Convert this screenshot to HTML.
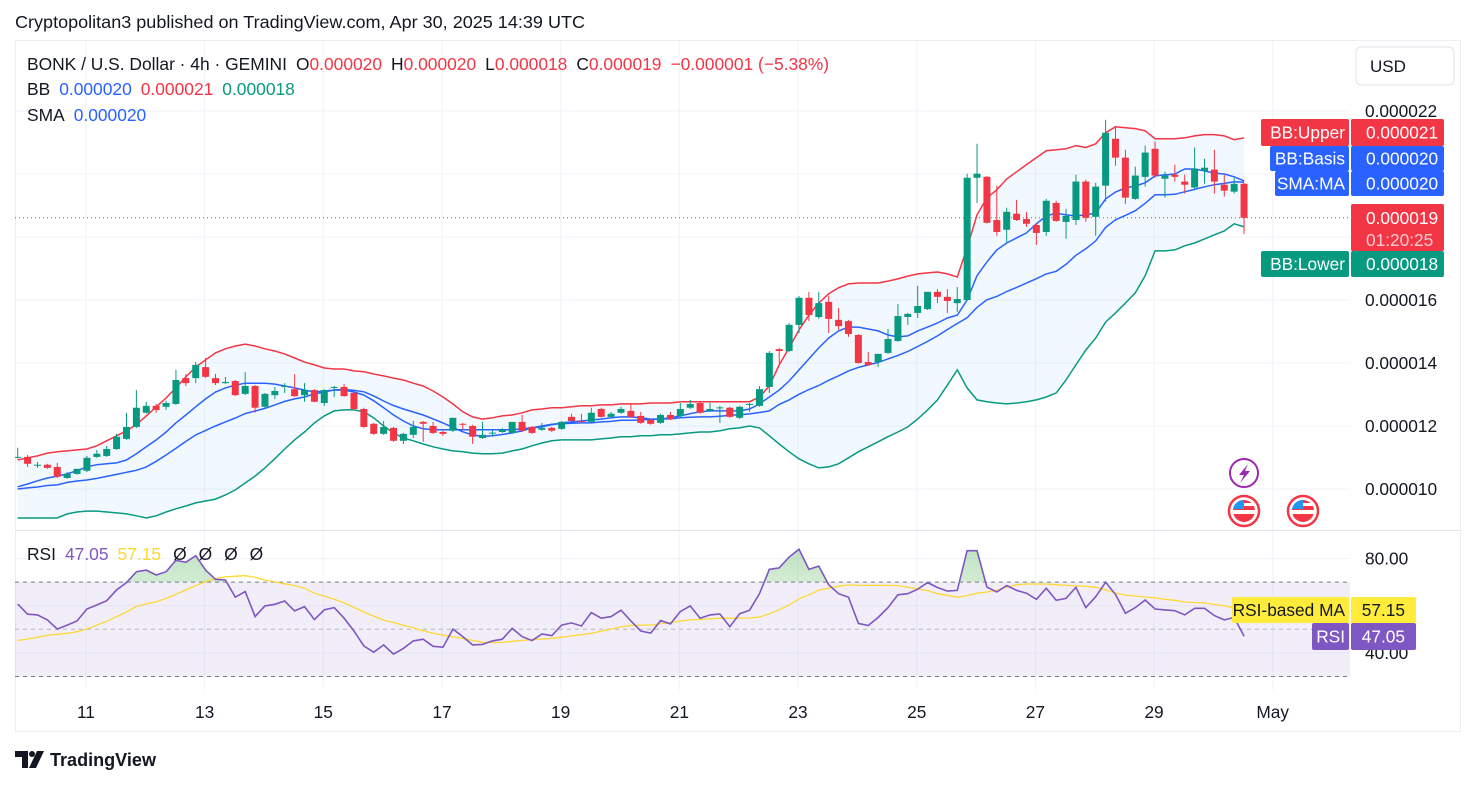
<!DOCTYPE html>
<html><head><meta charset="utf-8">
<style>
html,body{margin:0;padding:0;background:#fff;}
svg{display:block;font-family:"Liberation Sans",Arial,sans-serif;}
</style></head>
<body>
<svg id="chart" width="1476" height="785" viewBox="0 0 1476 785" xmlns="http://www.w3.org/2000/svg">
<defs>
<linearGradient id="obGrad" x1="0" y1="0" x2="0" y2="1">
<stop offset="0" stop-color="#4caf50" stop-opacity="0.35"/>
<stop offset="1" stop-color="#4caf50" stop-opacity="0.03"/>
</linearGradient>
<clipPath id="mainClip"><rect x="15" y="41" width="1335" height="489"/></clipPath>
<clipPath id="rsiClip"><rect x="15" y="531" width="1335" height="160"/></clipPath>
<clipPath id="obClip"><rect x="15" y="531" width="1335" height="51.3"/></clipPath>
</defs>
</svg>
<script>
// ---- data (prices in units of 1e-8 USD) ----
const openVals=[1099,1102,1077,1077,1070,1035,1048,1058,1102,1105,1127,1159,1197,1242,1264,1261,1270,1352,1352,1387,1352,1336,1343,1302,1327,1261,1298,1324,1317,1298,1314,1273,1321,1324,1305,1254,1207,1175,1194,1153,1172,1213,1200,1181,1185,1207,1200,1162,1177,1181,1178,1213,1197,1188,1194,1191,1229,1216,1213,1254,1229,1242,1248,1232,1219,1210,1235,1232,1258,1273,1248,1257,1258,1226,1267,1264,1324,1444,1438,1521,1607,1546,1594,1537,1533,1489,1403,1403,1432,1470,1546,1559,1571,1626,1610,1590,1600,1988,1991,1854,1823,1874,1857,1838,1816,1908,1848,1854,1976,1864,1963,2112,2052,1921,1991,2080,1985,1998,1976,1957,2010,2014,1966,1944,1969];
const highVals=[1131,1108,1086,1080,1083,1054,1064,1105,1124,1137,1175,1242,1314,1277,1270,1280,1378,1365,1403,1416,1365,1356,1346,1371,1330,1305,1324,1336,1365,1336,1317,1317,1327,1333,1308,1258,1210,1216,1197,1178,1216,1216,1213,1185,1226,1210,1204,1213,1188,1194,1213,1235,1200,1210,1197,1216,1239,1239,1258,1258,1245,1261,1273,1245,1222,1239,1245,1273,1283,1277,1273,1264,1261,1264,1273,1327,1438,1448,1527,1613,1626,1626,1613,1575,1537,1492,1435,1429,1508,1587,1559,1645,1626,1635,1635,1641,2001,2096,1994,1963,1893,1918,1880,1842,1921,1915,1889,1998,1982,1972,2172,2153,2077,2023,2090,2103,2007,2030,1998,2084,2049,2077,1998,1988,1972];
const lowVals=[1096,1070,1067,1064,1035,1032,1045,1054,1099,1102,1124,1156,1194,1239,1242,1251,1267,1327,1336,1352,1330,1334,1295,1298,1242,1258,1286,1305,1292,1277,1275,1264,1292,1293,1251,1194,1172,1172,1150,1143,1162,1150,1175,1169,1181,1188,1143,1159,1169,1178,1175,1181,1175,1185,1181,1188,1213,1210,1210,1226,1226,1239,1226,1207,1204,1207,1219,1229,1254,1239,1245,1210,1226,1222,1245,1261,1305,1400,1435,1495,1533,1540,1495,1505,1483,1398,1391,1387,1429,1467,1521,1543,1568,1590,1559,1562,1597,1908,1843,1804,1781,1851,1832,1775,1804,1848,1794,1838,1848,1804,1912,2026,1905,1918,1960,1988,1925,1976,1938,1954,1969,1938,1928,1938,1810];
const closeVals=[1102,1080,1077,1067,1039,1048,1064,1099,1112,1127,1166,1197,1258,1264,1251,1273,1346,1336,1394,1356,1336,1340,1298,1327,1258,1302,1311,1327,1295,1314,1277,1314,1324,1295,1254,1197,1175,1197,1153,1175,1197,1207,1178,1175,1226,1204,1166,1172,1179,1188,1213,1185,1178,1194,1185,1213,1216,1213,1242,1229,1239,1254,1229,1210,1207,1235,1222,1254,1270,1242,1254,1259,1229,1261,1270,1317,1432,1438,1521,1607,1552,1590,1540,1517,1492,1400,1394,1429,1476,1549,1556,1581,1626,1610,1597,1603,1988,2001,1845,1816,1880,1854,1842,1813,1915,1851,1867,1976,1861,1960,2131,2052,1925,1995,2068,1995,1995,1991,1966,2017,2020,1976,1947,1969,1861];
const bbUpper=[1092,1099,1105,1114,1118,1121,1124,1127,1137,1153,1169,1185,1204,1232,1261,1289,1321,1356,1387,1410,1432,1445,1454,1460,1454,1445,1438,1429,1416,1403,1394,1384,1381,1381,1375,1372,1365,1359,1352,1346,1336,1327,1311,1292,1270,1245,1229,1222,1226,1232,1235,1242,1251,1254,1258,1258,1261,1264,1264,1267,1267,1270,1270,1270,1273,1273,1273,1277,1277,1277,1277,1277,1277,1277,1277,1292,1327,1394,1448,1505,1552,1590,1620,1639,1651,1654,1654,1654,1660,1667,1676,1683,1686,1689,1683,1673,1766,1870,1924,1950,1984,2007,2030,2052,2074,2077,2080,2090,2084,2096,2131,2150,2147,2144,2137,2112,2112,2112,2115,2121,2125,2125,2121,2109,2115];
const bbLower=[908,908,908,908,908,921,927,930,930,927,924,921,915,908,915,927,937,946,956,962,968,981,997,1019,1041,1067,1096,1127,1156,1181,1210,1232,1248,1251,1251,1245,1226,1200,1178,1162,1153,1143,1134,1127,1121,1118,1114,1112,1112,1114,1121,1127,1137,1146,1153,1156,1156,1156,1156,1159,1162,1166,1166,1169,1169,1172,1172,1175,1178,1181,1181,1185,1191,1194,1200,1194,1169,1143,1118,1096,1080,1067,1070,1080,1099,1118,1134,1150,1166,1181,1197,1222,1251,1283,1330,1378,1321,1283,1277,1273,1270,1273,1277,1283,1292,1305,1346,1394,1441,1479,1530,1559,1590,1623,1677,1756,1756,1759,1772,1781,1794,1807,1819,1842,1832];
const smaVals=[1007,1016,1026,1035,1041,1048,1058,1070,1077,1080,1083,1092,1112,1134,1156,1181,1210,1235,1261,1286,1308,1321,1330,1336,1336,1336,1333,1327,1321,1314,1308,1311,1314,1314,1308,1298,1280,1258,1235,1216,1200,1191,1188,1188,1188,1188,1188,1188,1188,1188,1188,1191,1194,1197,1204,1210,1213,1216,1219,1222,1226,1229,1229,1226,1222,1222,1226,1232,1239,1245,1248,1248,1248,1248,1254,1270,1292,1314,1343,1378,1413,1448,1479,1502,1514,1514,1508,1502,1489,1483,1486,1502,1514,1527,1543,1552,1600,1677,1721,1759,1781,1797,1813,1842,1867,1876,1870,1867,1870,1876,1921,1943,1956,1962,1972,1994,1997,2000,2016,2016,2010,2003,2000,1991,1978];
const rsiVals=[60.7,56.4,56.1,54.0,50.1,51.8,53.5,58.6,60.3,62.1,66.7,69.8,74.4,75.1,73.0,74.4,79.2,78.4,81.2,75.1,71.2,70.9,63.6,66.0,55.4,59.9,60.6,62.0,57.8,59.6,54.1,58.2,59.2,54.7,49.3,42.9,40.3,43.4,39.5,41.9,45.1,45.8,42.8,42.4,50.1,46.9,43.4,43.6,45.1,45.8,50.4,46.9,45.2,48.0,47.3,51.8,52.7,51.4,57.1,54.7,55.4,58.1,53.5,49.3,48.4,53.7,52.3,57.5,59.9,54.7,56.1,56.5,51.1,56.6,58.1,65.1,75.4,76.0,80.6,83.9,75.4,76.8,68.9,65.1,63.6,52.5,51.6,55.0,59.2,64.6,65.1,67.0,69.8,67.7,66.2,66.5,83.3,83.3,67.9,65.8,68.5,66.5,65.3,62.7,67.4,62.3,63.1,67.8,59.2,63.8,69.9,64.8,56.8,59.2,62.4,58.6,58.2,57.9,56.1,58.9,58.9,55.8,54.0,55.0,47.05];
const rsiMaVals=[45.2,45.9,46.6,47.5,47.9,48.3,49.0,50.1,51.8,53.4,55.4,57.3,59.7,60.7,61.6,63.1,64.8,66.7,68.5,70.2,71.5,72.2,72.5,72.7,72.0,70.9,70.1,69.3,68.5,67.4,65.3,64.1,62.7,61.2,59.3,57.3,55.6,53.9,52.9,51.7,50.6,49.4,48.3,47.5,46.8,46.1,45.3,44.5,44.4,44.4,44.9,45.3,45.6,45.9,46.2,46.6,47.2,47.7,48.3,49.2,50.1,51.0,51.6,51.8,51.8,52.4,52.8,53.5,54.0,54.2,54.4,54.7,54.7,54.7,54.8,55.2,56.6,58.3,60.3,62.9,64.6,66.6,67.4,68.2,68.8,68.6,68.6,68.6,68.6,68.5,67.8,67.1,66.4,65.1,64.4,63.6,64.3,65.3,65.8,66.5,67.9,68.9,69.2,69.2,69.2,68.9,68.6,68.4,68.2,67.8,66.8,65.4,64.5,64.1,63.7,63.3,62.7,62.3,61.6,61.3,61.2,60.5,60.0,59.0,57.15];
const priceTicks=[1000,1200,1400,1600,1800,2000,2200];
const priceTickLabels=["0.000010","0.000012","0.000014","0.000016","","","0.000022"];
const rsiTicks=[80,60,40];
const rsiTickLabels=["80.00","","40.00"];
const dayTicks=[11,13,15,17,19,21,23,25,27,29,31];
const dayTickLabels=["11","13","15","17","19","21","23","25","27","29","May"];

// ---- axis functions ----
const NS="http://www.w3.org/2000/svg";
const svg=document.getElementById('chart');
function xIdx(i){return 17.7+9.89*i;}
function xDay(d){return xIdx(6.9+(d-11)*6);}
function yP(v){return 489-(v-1000)*63/200;}
function yR(r){return 629.3-(r-50)*2.36;}
function mk(tag,attrs,parent){const e=document.createElementNS(NS,tag);for(const k in attrs)e.setAttribute(k,attrs[k]);(parent||svg).appendChild(e);return e;}
function grp(parent){return mk('g',{},parent);}
const FS=17.3;

let bg=mk('rect',{x:0,y:0,width:1476,height:785,fill:'#ffffff'});



let hdr=mk('text',{x:15,y:28,'font-size':17.5,fill:'#131722',textLength:570,lengthAdjust:'spacingAndGlyphs'});


hdr.textContent='Cryptopolitan3 published on TradingView.com, Apr 30, 2025 14:39 UTC';

let frame=mk('rect',{x:15.5,y:40.5,width:1445,height:691,fill:'none',stroke:'#eceef2'});



const grid=grp();


dayTicks.forEach(d=>{const l=mk('line',{x1:xDay(d),x2:xDay(d),y1:41,y2:690,stroke:'#f0f3fa'},grid);

});
priceTicks.forEach(v=>{const l=mk('line',{x1:15,x2:1350,y1:yP(v),y2:yP(v),stroke:'#f0f3fa'},grid);

});
rsiTicks.forEach(v=>{const l=mk('line',{x1:15,x2:1350,y1:yR(v),y2:yR(v),stroke:'#f0f3fa'},grid);

});

let sep=mk('line',{x1:15,x2:1460,y1:530.5,y2:530.5,stroke:'#e0e3eb'});



const main=grp();main.setAttribute('clip-path','url(#mainClip)');


const n=closeVals.length;
function linePts(arr,fy){return arr.map((v,i)=>xIdx(i).toFixed(1)+','+fy(v).toFixed(1)).join(' ');}
let fillPts=linePts(bbUpper,yP)+' '+bbLower.map((v,i)=>[xIdx(i),yP(v)]).reverse().map(p=>p[0].toFixed(1)+','+p[1].toFixed(1)).join(' ');
let bandFill=mk('polygon',{points:fillPts,fill:'#2196f3','fill-opacity':0.06},main);


const bbBasis=bbUpper.map((u,i)=>(u+bbLower[i])/2);
let up=mk('polyline',{points:linePts(bbUpper,yP),fill:'none',stroke:'#f23645','stroke-width':1.5},main);


let lo=mk('polyline',{points:linePts(bbLower,yP),fill:'none',stroke:'#089981','stroke-width':1.5},main);


let ba=mk('polyline',{points:linePts(bbBasis,yP),fill:'none',stroke:'#2962ff','stroke-width':1.5},main);


let sm=mk('polyline',{points:linePts(smaVals,yP),fill:'none',stroke:'#2962ff','stroke-width':1.5},main);


const cg=grp(main);


for(let i=0;i<n;i++){
  const o=openVals[i],h=highVals[i],l=lowVals[i],c=closeVals[i];
  const col=c>=o?'#089981':'#f23645';
  const x=xIdx(i);
  const g=grp(cg);
  
  
  mk('line',{x1:x,x2:x,y1:yP(h),y2:yP(l),stroke:col,'stroke-width':1},g);
  const yt=yP(Math.max(o,c)),yb=yP(Math.min(o,c));
  mk('rect',{x:x-3.5,y:yt,width:7,height:Math.max(1,yb-yt),fill:col},g);
}
let lp=mk('line',{x1:15,x2:1350,y1:yP(closeVals[n-1]),y2:yP(closeVals[n-1]),stroke:'#f23645','stroke-width':1,'stroke-dasharray':'1,3'});



function legendRow(y,parts,name){const t=mk('text',{x:27,y:y,'font-size':17.4});


parts.forEach(p=>{const s=mk('tspan',{fill:p[1]},t);if(p[2])s.setAttribute('dx',p[2]);s.textContent=p[0];});}
legendRow(70,[["BONK / U.S. Dollar · 4h · GEMINI","#131722"],["O","#131722",9],["0.000020","#f23645"],["H","#131722",9],["0.000020","#f23645"],["L","#131722",9],["0.000018","#f23645"],["C","#131722",9],["0.000019","#f23645"],["−0.000001 (−5.38%)","#f23645",9]],'ohlc-legend');
legendRow(95,[["BB","#131722"],["0.000020","#2962ff",9],["0.000021","#f23645",9],["0.000018","#089981",9]],'bb-legend');
legendRow(121,[["SMA","#131722"],["0.000020","#2962ff",9]],'sma-legend');

let ic1=grp();

mk('circle',{cx:1244,cy:473,r:14,fill:'#fff',stroke:'#9c27b0','stroke-width':2},ic1);
mk('path',{d:'M1248 464 L1239 475 L1244 475 L1240 483 L1250 471 L1245 471 Z',fill:'#9c27b0'},ic1);
[1244,1303].forEach(cx=>{const g=grp();


mk('circle',{cx:cx,cy:511,r:15,fill:'#fff',stroke:'#f23645','stroke-width':2.5},g);
mk('circle',{cx:cx,cy:511,r:11,fill:'#f23645'},g);
mk('rect',{x:cx-11,y:510,width:22,height:4,fill:'#fff'},g);
mk('path',{d:`M${cx-11} 509 A11 11 0 0 1 ${cx} 500 L${cx} 509 Z`,fill:'#2196f3'},g);
mk('rect',{x:cx,y:503,width:11,height:3,fill:'#fff'},g);});

const rp=grp();rp.setAttribute('clip-path','url(#rsiClip)');


let rb=mk('rect',{x:15,y:yR(70),width:1335,height:yR(30)-yR(70),fill:'#7e57c2','fill-opacity':0.1},rp);


[[70,'#787b86','4,4'],[50,'#b2b5be','4,4'],[30,'#787b86','4,4']].forEach(a=>{const l=mk('line',{x1:15,x2:1350,y1:yR(a[0]),y2:yR(a[0]),stroke:a[1],'stroke-dasharray':a[2]},rp);

});
let obPts=xIdx(0)+','+yR(70)+' '+linePts(rsiVals,yR)+' '+xIdx(n-1)+','+yR(70);
let ob=mk('polygon',{points:obPts,fill:'url(#obGrad)','clip-path':'url(#obClip)'},rp);


let rma=mk('polyline',{points:linePts(rsiMaVals,yR),fill:'none',stroke:'#fdd835','stroke-width':1.3},rp);


let rl=mk('polyline',{points:linePts(rsiVals,yR),fill:'none',stroke:'#7e57c2','stroke-width':1.6},rp);


let rlg=mk('text',{x:27,y:560,'font-size':17.4});


[["RSI","#131722"],["47.05","#7e57c2",9],["57.15","#fdd835",9],["Ø","#131722",12],["Ø","#131722",12],["Ø","#131722",12],["Ø","#131722",12]].forEach(p=>{const s=mk('tspan',{fill:p[1]},rlg);if(p[2])s.setAttribute('dx',p[2]);s.textContent=p[0];});

const pa=grp();

priceTicks.forEach((v,i)=>{if(!priceTickLabels[i])return;const t=mk('text',{x:1365,y:yP(v)+6,'font-size':FS,fill:'#131722'},pa);


t.textContent=priceTickLabels[i];});
rsiTicks.forEach((v,i)=>{if(!rsiTickLabels[i])return;const t=mk('text',{x:1365,y:yR(v)+6,'font-size':FS,fill:'#131722'},pa);


t.textContent=rsiTickLabels[i];});
const ta=grp();

dayTicks.forEach((d,i)=>{const t=mk('text',{x:xDay(d),y:718,'font-size':FS,fill:'#131722','text-anchor':'middle'},ta);


t.textContent=dayTickLabels[i];});

let usd=grp();

mk('rect',{x:1356,y:47,width:98,height:38,rx:5,fill:'#fff',stroke:'#e0e3eb'},usd);
let ut=mk('text',{x:1370,y:72,'font-size':17,fill:'#131722'},usd);ut.textContent='USD';

function axisLabel(name,text,val,y0,h,lx,color,tcol,short){const g=grp();


if(text){mk('rect',{x:lx,y:y0,width:1349-lx,height:h,rx:2,fill:color},g);
const t=mk('text',{x:1345,y:y0+h/2+6,'font-size':FS,fill:tcol,'text-anchor':'end'},g);t.textContent=text;}
mk('rect',{x:1351,y:y0,width:short?65:93,height:h,rx:2,fill:color},g);
const v=mk('text',{x:short?1405:1366,y:y0+h/2+6,'font-size':FS,fill:tcol,'text-anchor':short?'end':'start'},g);v.textContent=val;}
axisLabel('bb-upper-label','BB:Upper','0.000021',119,27,1261,'#f23645','#fff');
axisLabel('bb-basis-label','BB:Basis','0.000020',146,25,1270,'#2962ff','#fff');
axisLabel('sma-label','SMA:MA','0.000020',171,25,1275,'#2962ff','#fff');
let pl=grp();

mk('rect',{x:1351,y:204,width:93,height:47,rx:2,fill:'#f23645'},pl);
let p1=mk('text',{x:1366,y:224,'font-size':FS,fill:'#fff'},pl);p1.textContent='0.000019';
let p2=mk('text',{x:1366,y:246,'font-size':FS,fill:'#fff','fill-opacity':0.75},pl);p2.textContent='01:20:25';
axisLabel('bb-lower-label','BB:Lower','0.000018',251,26,1261,'#089981','#fff');
axisLabel('rsi-ma-label','RSI-based MA','57.15',597,26,1232,'#ffeb3b','#131722',true);
axisLabel('rsi-label','RSI','47.05',623,27,1312,'#7e57c2','#fff',true);

let logo=grp();

mk('path',{d:'M15 751 H28 V768 H22 V757 H15 Z',fill:'#131722'},logo);
mk('circle',{cx:32,cy:754,r:3,fill:'#131722'},logo);
mk('path',{d:'M37 751 H44 L36 768 H29 Z',fill:'#131722'},logo);
let lt=mk('text',{x:50,y:766,'font-size':18,'font-weight':'bold',fill:'#131722',textLength:106,lengthAdjust:'spacingAndGlyphs'},logo);lt.textContent='TradingView';
</script>
</body></html>
